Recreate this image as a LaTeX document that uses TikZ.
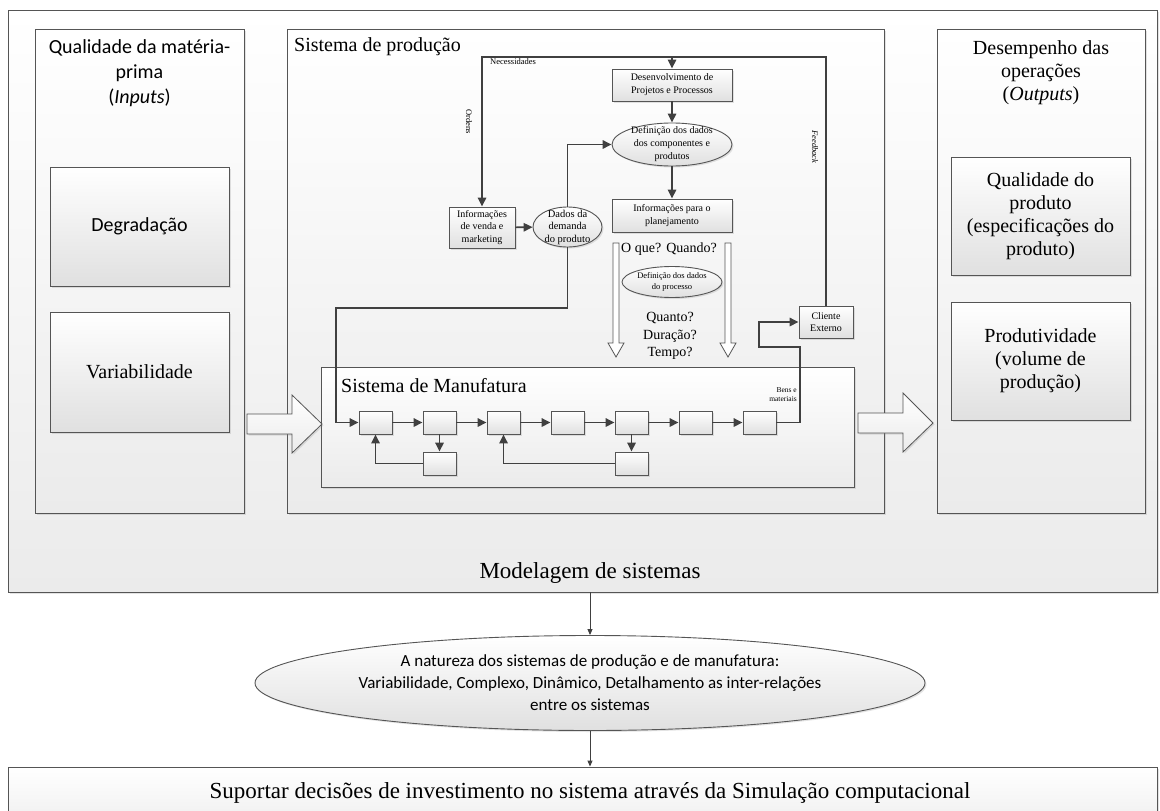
\documentclass[tikz,border=0pt]{standalone}
\usepackage{fontspec}
\setmainfont{Liberation Serif}
\newfontfamily\calib{Carlito}
\usetikzlibrary{arrows.meta,shapes.geometric,shadows,fit}
\definecolor{linecol}{HTML}{404040}
\definecolor{edgecol}{HTML}{555555}
\definecolor{paneend}{HTML}{EBEBEB}
\definecolor{cardend}{HTML}{E0E0E0}
\newcommand\fs[2]{\fontsize{#1}{#2}\selectfont}

\begin{document}
\begin{tikzpicture}[x=1pt,y=-1pt,
  softshadow/.style={drop shadow={opacity=0.22,shadow xshift=1.5pt,shadow yshift=-1.5pt}},
  panel/.style={draw=edgecol,line width=0.9pt,top color=white,bottom color=paneend,inner sep=0pt,softshadow},
  card/.style={draw=edgecol,line width=0.9pt,top color=white,bottom color=cardend,inner sep=0pt,align=center,softshadow},
  oval/.style={ellipse,draw=edgecol,line width=0.9pt,top color=white,bottom color=cardend,inner sep=0pt,softshadow},
  cell/.style={card,minimum width=33pt,minimum height=23pt},
  flow/.style={draw=linecol,line width=1.6pt,-{Triangle[length=9pt,width=8.5pt]}},
  thinflow/.style={draw=linecol,line width=0.9pt,-{Triangle[length=6pt,width=5pt]}},
  hollow/.style={draw=edgecol,line width=0.8pt,fill=white},
  bigarrow/.style={draw=edgecol,line width=0.8pt,top color=white,bottom color=paneend,softshadow},
  serif20/.style={font=\fs{20}{23}},
  tiny/.style={font=\fs{8.5}{9.5},inner sep=0pt}
]
\useasboundingbox (0,0) rectangle (1160,811);
\clip (0,0) rectangle (1160,811);
\fill[white] (0,0) rectangle (1160,811);

% outer frame and the three columns
\node[panel,fit={(8,10) (1157,592)}] (outer) {};
\node[panel,fit={(35,29) (244,513)}] (inputs) {};
\node[panel,fit={(287,29) (884,513)}] (prod) {};
\node[panel,fit={(937,29) (1145,513)}] (outputs) {};

% inputs column
\node[font=\calib\fs{20}{25},align=center] (intitle) at (139.5,73) {Qualidade da matéria-\\prima\\(\textit{Inputs})};
\node[card,minimum width=179pt,minimum height=119pt,font=\calib\fs{20}{24}] (degr) at (139.5,226.5) {Degradação};
\node[card,minimum width=179pt,minimum height=120pt,serif20] (varia) at (139.5,372) {Variabilidade};

% outputs column
\node[serif20,align=center] (outtitle) at (1041,73) {Desempenho das\\operações\\(\textit{Outputs})};
\node[card,minimum width=179pt,minimum height=118pt,serif20] (qual) at (1040.5,216) {Qualidade do\\produto\\(especificações do\\produto)};
\node[card,minimum width=179pt,minimum height=118pt,serif20] (produt) at (1040.5,361) {Produtividade\\(volume de\\produção)};

\node[font=\fs{23}{26}] (model) at (590,573) {Modelagem de sistemas};

% production system
\node[font=\fs{20}{23},anchor=west,inner sep=0pt] (prodtitle) at (294,47) {Sistema de produção};

\node[card,minimum width=120pt,minimum height=32pt,font=\fs{10}{13}] (des) at (672,85) {Desenvolvimento de\\Projetos e Processos};
\node[oval,minimum width=120pt,minimum height=43pt] (defc) at (672,144.5) {};
\node[font=\fs{10}{13},align=center] at (defc) {Definição dos dados\\dos componentes e\\produtos};
\node[card,minimum width=120pt,minimum height=33pt,font=\fs{10}{13}] (plan) at (672,215.5) {Informações para o\\planejamento};
\node[card,minimum width=66pt,minimum height=41pt,font=\fs{10}{12.5}] (venda) at (482,227.5) {Informações\\de venda e\\marketing};
\node[oval,minimum width=69pt,minimum height=40pt] (dados) at (567.5,227) {};
\node[font=\fs{10.5}{12.5},align=center] at (dados) {Dados da\\demanda\\do produto};
\node[card,minimum width=54pt,minimum height=32pt,font=\fs{10}{12.5}] (cli) at (826,322) {Cliente\\Externo};

\node[font=\fs{14}{17},anchor=west,inner sep=0pt] (oque) at (621,249) {O que?};
\node[font=\fs{14}{17},anchor=east,inner sep=0pt] (quando) at (717,249) {Quando?};
\node[oval,minimum width=100pt,minimum height=31pt] (proc) at (672,282) {};
\node[font=\fs{8.5}{11},align=center] at (proc) {Definição dos dados\\do processo};
\node[font=\fs{14}{17.5},align=center] (quanto) at (670,336) {Quanto?\\Duração?\\Tempo?};

% hollow arrows beside the planning questions
\draw[hollow] (613,243) -- (619,243) -- (619,343) -- (624,343) -- (616,357) -- (608,343) -- (613,343) -- cycle;
\draw[hollow] (725,243) -- (731,243) -- (731,343) -- (736,343) -- (728,357) -- (720,343) -- (725,343) -- cycle;

% manufacturing system
\node[panel,fit={(321,367) (854,487)}] (manuf) {};
\node[font=\fs{20}{23},anchor=west,inner sep=0pt] (manuftitle) at (341,386) {Sistema de Manufatura};
\node[cell] (b1) at (375.5,422.5) {};
\node[cell] (b2) at (439.5,422.5) {};
\node[cell] (b3) at (503.5,422.5) {};
\node[cell] (b4) at (567.5,422.5) {};
\node[cell] (b5) at (631.5,422.5) {};
\node[cell] (b6) at (695.5,422.5) {};
\node[cell] (b7) at (759.5,422.5) {};
\node[cell] (c1) at (439.5,463.5) {};
\node[cell] (c2) at (631.5,463.5) {};
\node[font=\fs{7.5}{9},align=right,anchor=east,inner sep=0pt] (bens) at (797,395) {Bens e\\materiais};

% connector bends
\coordinate (jn) at (336,308);
\coordinate (e1) at (800,347);
\coordinate (e2) at (759,347);
\coordinate (topM) at (672,57);
\coordinate (topL) at (482,57);

\draw[flow] (b1) -- (b2);
\draw[flow] (b2) -- (b3);
\draw[flow] (b3) -- (b4);
\draw[flow] (b4) -- (b5);
\draw[flow] (b5) -- (b6);
\draw[flow] (b6) -- (b7);
\draw[flow] (b2) -- (c1);
\draw[flow] (b5) -- (c2);
\draw[flow] (c1.west) -| (b1.south);
\draw[flow] (c2.west) -| (b3.south);
\draw[flow] (dados.south) |- (jn) |- (b1.west);
\draw[flow] (b7.east) -| (e1) -- (e2) |- (cli.west);
\draw[flow] (cli.north) |- (topM) -- (des.north);
\draw[flow] (topM) -- (topL) -- (venda.north);
\draw[flow] (des) -- (defc);
\draw[flow] (defc) -- (plan);
\draw[flow] (venda) -- (dados);
\draw[flow] (dados.north) |- (defc.west);

\node[tiny,anchor=west] (neces) at (490,62) {Necessidades};
\node[tiny,rotate=-90] (ordens) at (469,122) {Ordens};
\node[tiny,rotate=-90,font=\fs{8.5}{9.5}\itshape] (feedb) at (815,147) {Feedback};

% large transfer arrows
\draw[bigarrow] (247,414) -- (292,414) -- (292,395) -- (322,424) -- (292,453) -- (292,434) -- (247,434) -- cycle;
\draw[bigarrow] (858,413) -- (903,413) -- (903,393) -- (933,423) -- (903,452) -- (903,433) -- (858,433) -- cycle;

% nature of the systems and the decision support
\node[oval,minimum width=670pt,minimum height=95pt] (nat) at (590,683) {};
\node[font=\calib\fs{17}{22},align=center] at (nat) {A natureza dos sistemas de produção e de manufatura:\\Variabilidade, Complexo, Dinâmico, Detalhamento as inter-relações\\entre os sistemas};
\node[panel,fit={(8,767) (1157,840)}] (sup) {};
\node[font=\fs{23}{26}] (suptext) at (590,793) {Suportar decisões de investimento no sistema através da Simulação computacional};

\draw[thinflow] (nat.north |- outer.south) -- (nat.north);
\draw[thinflow] (nat.south) -- (nat.south |- sup.north);
\end{tikzpicture}
\end{document}
